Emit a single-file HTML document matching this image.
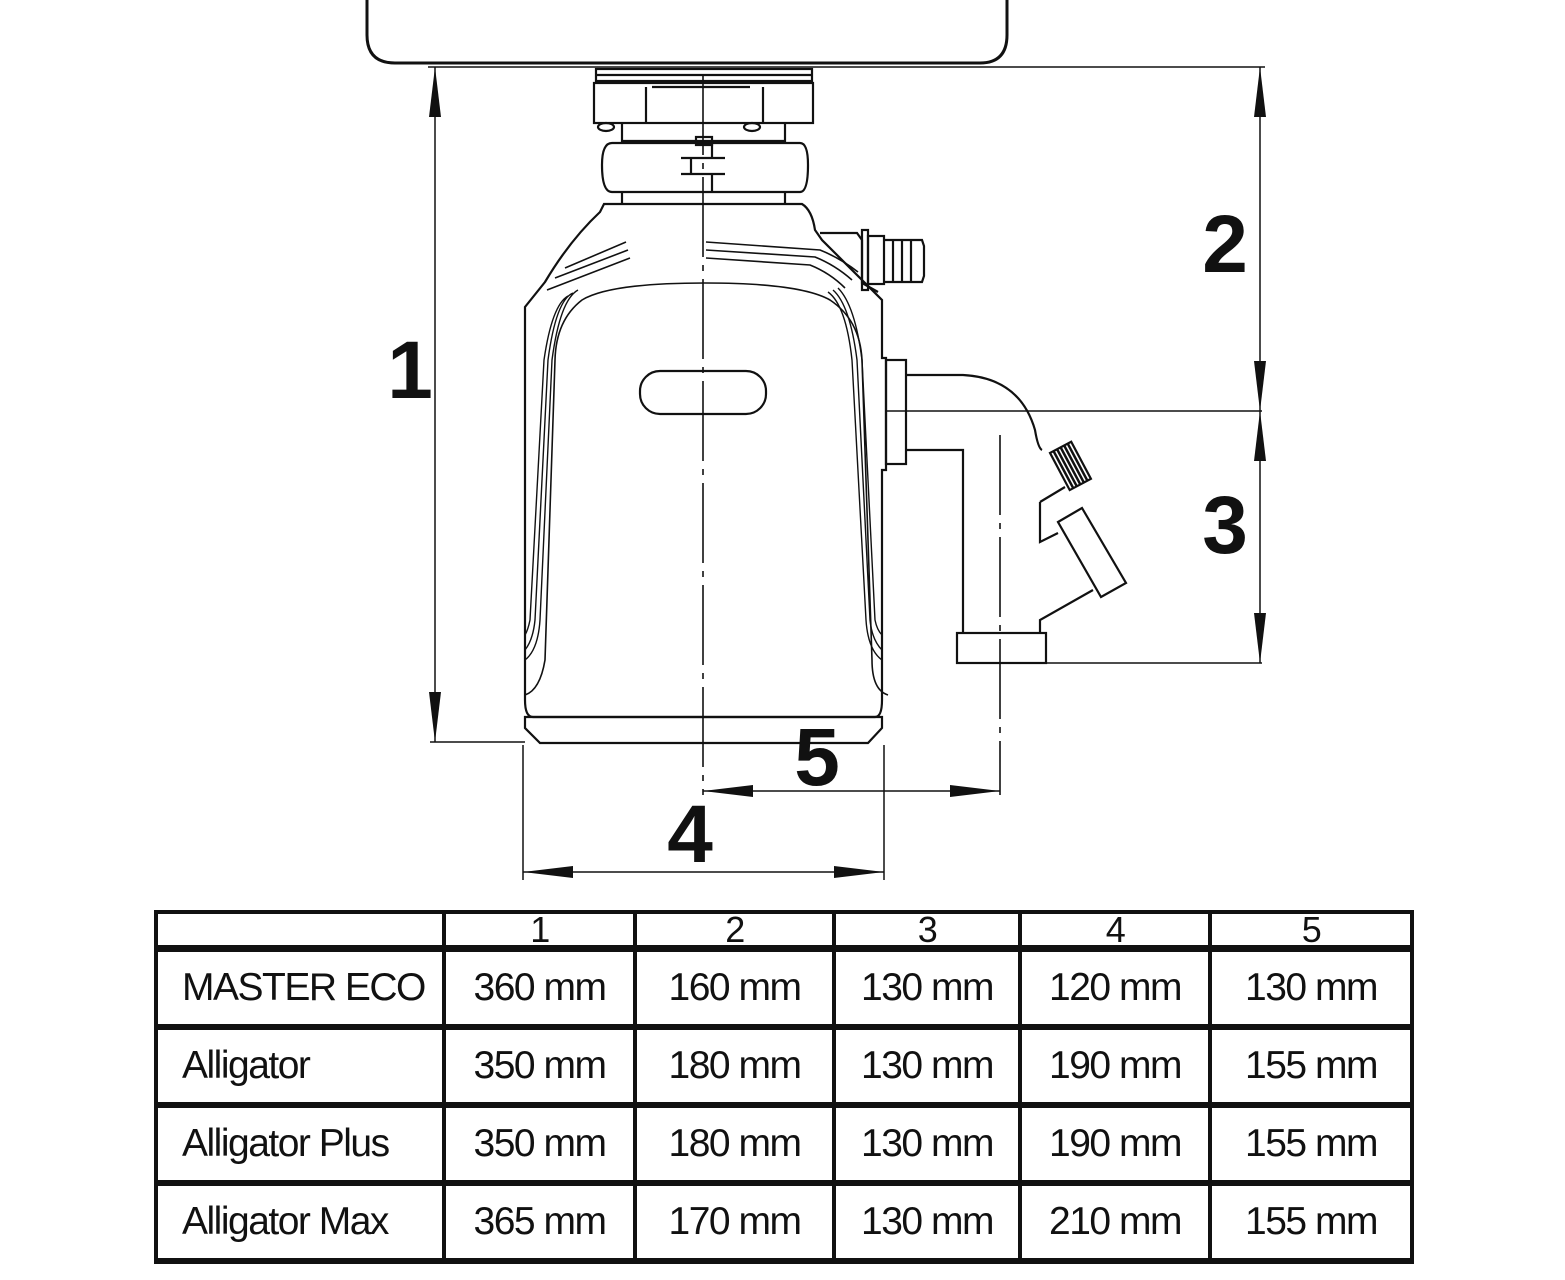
<!DOCTYPE html>
<html><head><meta charset="utf-8"><style>
html,body{margin:0;padding:0;background:#fff;}
body{width:1565px;height:1280px;position:relative;overflow:hidden;}
svg{position:absolute;left:0;top:0;}
table{position:absolute;left:154px;top:910px;width:1256px;table-layout:fixed;border-collapse:collapse;font-family:"Liberation Sans",sans-serif;}
td{border:4px solid #111;padding:0;font-size:39px;color:#111;text-align:center;letter-spacing:-1.5px;white-space:nowrap;overflow:hidden;}
td.n{text-align:left;padding-left:24px;}
tr.h td{height:31px;font-size:36px;line-height:30px;vertical-align:bottom;border-bottom-width:7px;}
tr.r td{height:72px;border-bottom-width:6px;}
</style></head><body>
<svg width="1565" height="900" viewBox="0 0 1565 900" fill="none" stroke="#111" stroke-width="2.2">
<defs>
<marker id="a" viewBox="0 0 50 12" refX="50" refY="6" markerWidth="50" markerHeight="12" markerUnits="userSpaceOnUse" orient="auto-start-reverse"><path d="M50,6 L0,0 L0,12 Z" fill="#111" stroke="none"/></marker>
</defs>
<!-- sink -->
<path d="M367,0 L367,35 Q367,63 395,63 L980,63 Q1007,63 1007,35 L1007,0" stroke-width="3"/>
<line x1="428" y1="67" x2="1265" y2="67" stroke-width="1.5"/>
<!-- flange top -->
<rect x="596" y="69" width="216" height="12"/>
<line x1="596" y1="75" x2="812" y2="75"/>
<rect x="594" y="83" width="219" height="40"/>
<line x1="646" y1="87" x2="646" y2="123"/><line x1="763" y1="87" x2="763" y2="123"/>
<line x1="652" y1="87" x2="750" y2="87"/>
<ellipse cx="606" cy="127" rx="8" ry="4"/><ellipse cx="752" cy="127" rx="8" ry="4"/>
<line x1="622" y1="123" x2="622" y2="143"/><line x1="785" y1="123" x2="785" y2="143"/>
<line x1="622" y1="141" x2="785" y2="141"/>
<path d="M612,143 L800,143 Q808,143 808,165 Q808,192 800,192 L612,192 Q602,192 602,165 Q602,143 612,143 Z"/>
<rect x="696" y="137" width="16" height="8"/>
<path d="M681,158 L725,158 M681,174 L725,174 M691,158 L691,174 M712,143 L712,158 M712,174 L712,192"/>
<line x1="622" y1="192" x2="622" y2="204"/><line x1="785" y1="192" x2="785" y2="204"/>
<!-- body -->
<path d="M604,204 L802,204 Q812,210 815,230 L822,240 L882,300 L882,358 L886,358 L886,470 L882,470 L882,700 Q882,717 875,717 L533,717 Q525,717 525,700 L525,307 L545,282 Q570,240 600,212 Z"/>
<path d="M525,717 L882,717 L882,728 L868,743 L540,743 L525,728 Z"/>
<path d="M565,268 L626,242 M555,278 L628,250 M547,290 L630,258" stroke-width="1.6"/>
<path d="M706,242 L820,250 Q840,258 858,272 M706,250 L815,257 Q835,265 852,280 M706,258 L810,265 Q830,273 845,288" stroke-width="1.6"/>
<path d="M705,283 Q800,283 830,300 Q860,320 862,360 L872,660 Q872,690 888,695" stroke-width="1.6"/>
<path d="M705,283 Q610,283 582,300 Q556,320 555,360 L545,660 Q540,690 525,695" stroke-width="1.6"/>
<path d="M578,290 Q560,300 552,360 L540,620 Q538,650 525,660 M573,293 Q556,300 548,360 L535,620 Q533,640 525,650 M568,296 Q552,305 544,360 L530,620 Q528,630 525,635" stroke-width="1.4"/>
<path d="M828,292 Q846,305 852,360 L866,620 Q868,650 882,660 M833,290 Q850,305 857,360 L870,620 Q872,640 882,650 M838,288 Q855,305 862,360 L875,620 Q877,630 882,635" stroke-width="1.4"/>
<rect x="640" y="371" width="126" height="43" rx="20"/>
<!-- hose inlet -->
<path d="M820,233 L857,233 L862,240 L862,283 L878,292"/>
<rect x="862" y="230" width="6" height="60"/>
<rect x="868" y="236" width="16" height="48"/>
<path d="M884,240 L922,240 L924,246 L924,276 L922,282 L884,282 M893,240 L893,282 M902,240 L902,282 M911,240 L911,282"/>
<!-- outlet -->
<rect x="886" y="360" width="20" height="104"/>
<path d="M906,375 L963,375 Q1020,378 1035,430 Q1038,448 1042,450"/>
<path d="M906,450 L963,450 L963,633"/>
<path d="M1040,502 L1065,487 M1040,502 L1040,542 L1058,533"/>
<g transform="translate(1070,465) rotate(-28)"><rect x="-12" y="-20" width="24" height="42" fill="#fff"/><path d="M-8,-20 L-8,22 M-4,-20 L-4,22 M0,-20 L0,22 M4,-20 L4,22 M8,-20 L8,22" stroke-width="2.5"/></g>
<path d="M1058,522 L1082,508 L1126,583 L1101,597 Z"/>
<path d="M1093,590 L1040,620 L1040,633"/>
<rect x="957" y="633" width="89" height="30"/>
<line x1="1046" y1="663" x2="1262" y2="663" stroke-width="1.5"/>
<line x1="886" y1="411" x2="1262" y2="411" stroke-width="1.5"/>
<!-- center lines -->
<line x1="703" y1="75" x2="703" y2="795" stroke-width="1.6" stroke-dasharray="80,8,6,8"/>
<line x1="1000" y1="435" x2="1000" y2="795" stroke-width="1.6" stroke-dasharray="80,8,6,8"/>
<line x1="430" y1="742" x2="525" y2="742" stroke-width="1.5"/>
<line x1="523" y1="745" x2="523" y2="880" stroke-width="1.5"/>
<line x1="884" y1="745" x2="884" y2="880" stroke-width="1.5"/>
<!-- dimensions -->
<line x1="435" y1="67" x2="435" y2="742" stroke-width="1.5" marker-start="url(#a)" marker-end="url(#a)"/>
<line x1="1260" y1="67" x2="1260" y2="411" stroke-width="1.5" marker-start="url(#a)" marker-end="url(#a)"/>
<line x1="1260" y1="411" x2="1260" y2="663" stroke-width="1.5" marker-start="url(#a)" marker-end="url(#a)"/>
<line x1="703" y1="791" x2="1000" y2="791" stroke-width="1.5" marker-start="url(#a)" marker-end="url(#a)"/>
<line x1="523" y1="872" x2="884" y2="872" stroke-width="1.5" marker-start="url(#a)" marker-end="url(#a)"/>
<g fill="#111" stroke="none" font-family="Liberation Sans,sans-serif" font-weight="bold" font-size="82" text-anchor="middle">
<text x="410" y="398">1</text>
<text x="1225" y="272">2</text>
<text x="1225" y="553">3</text>
<text x="690" y="862">4</text>
<text x="817" y="785">5</text>
</g>
</svg>
<table>
<colgroup><col style="width:288px"><col style="width:191px"><col style="width:199px"><col style="width:186px"><col style="width:190px"><col style="width:202px"></colgroup>
<tr class="h"><td></td><td>1</td><td>2</td><td>3</td><td>4</td><td>5</td></tr>
<tr class="r"><td class="n">MASTER ECO</td><td>360 mm</td><td>160 mm</td><td>130 mm</td><td>120 mm</td><td>130 mm</td></tr>
<tr class="r"><td class="n">Alligator</td><td>350 mm</td><td>180 mm</td><td>130 mm</td><td>190 mm</td><td>155 mm</td></tr>
<tr class="r"><td class="n">Alligator Plus</td><td>350 mm</td><td>180 mm</td><td>130 mm</td><td>190 mm</td><td>155 mm</td></tr>
<tr class="r"><td class="n">Alligator Max</td><td>365 mm</td><td>170 mm</td><td>130 mm</td><td>210 mm</td><td>155 mm</td></tr>
</table>
</body></html>
